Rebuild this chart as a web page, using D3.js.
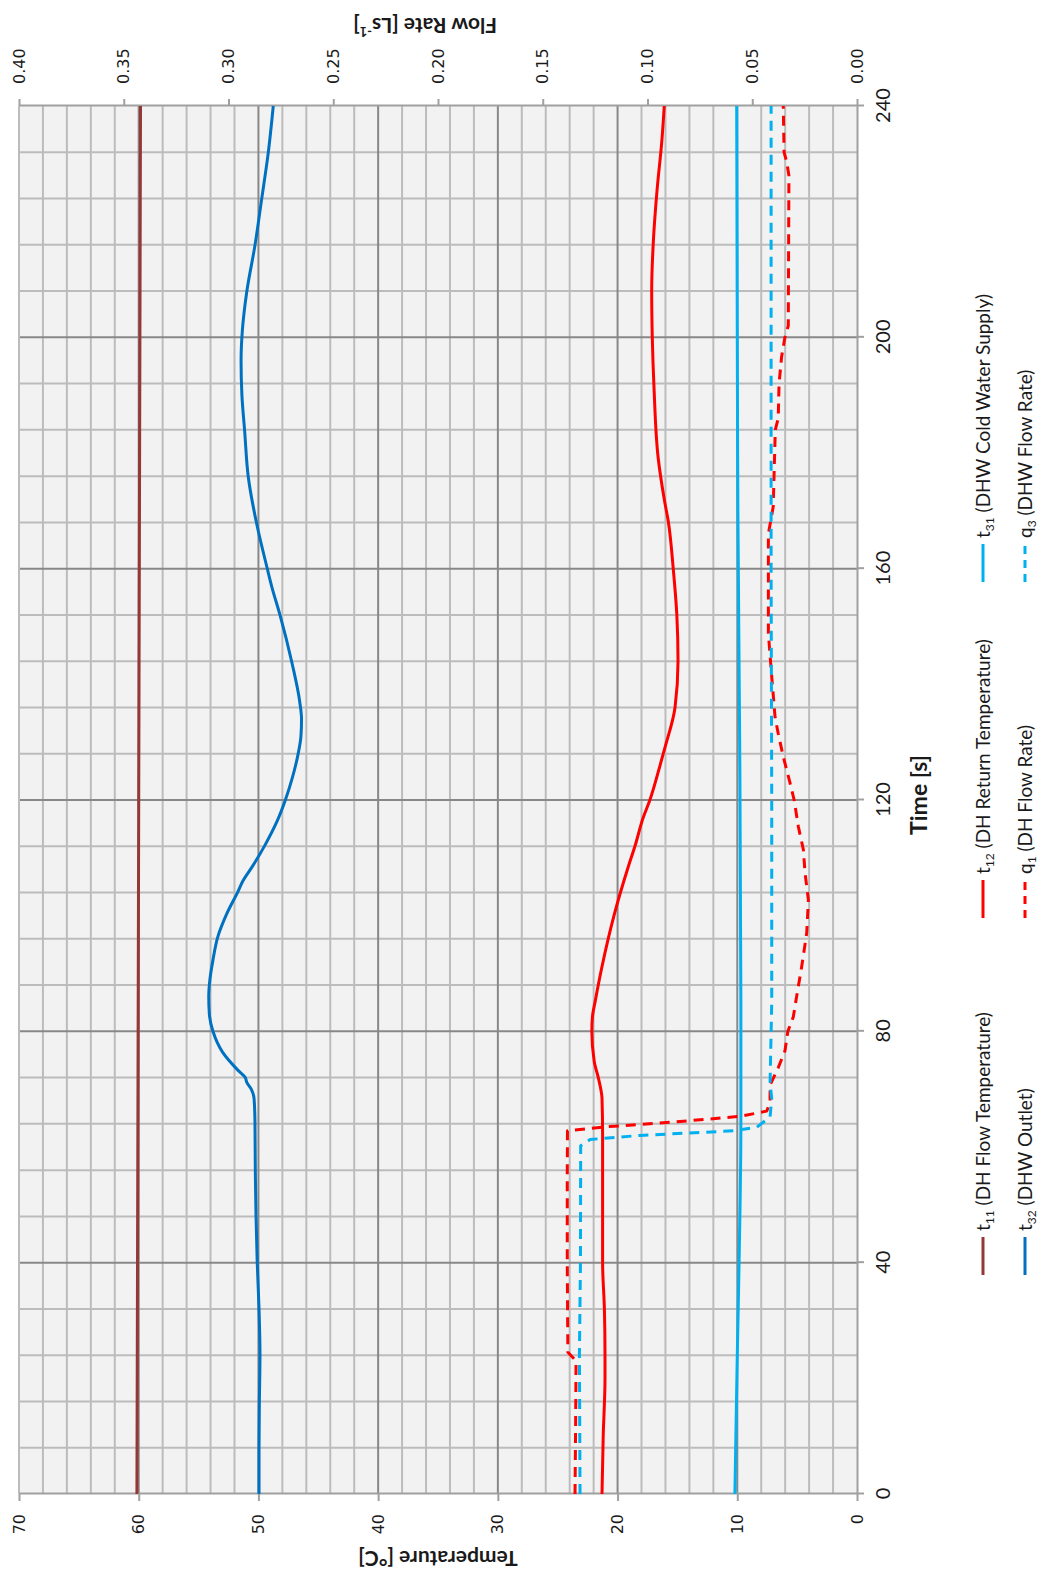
<!DOCTYPE html>
<html>
<head>
<meta charset="utf-8">
<script src="https://cdn.jsdelivr.net/npm/d3@7"></script>
<style>
  body { margin: 0; background: #fff; }
  svg { display: block; }
</style>
</head>
<body>
<svg id="chart" width="1041" height="1573"></svg>
<script>
// readings from the chart, [time s, value]
var t11 = [[0,60.15],[40,60.1],[80,60.05],[120,60.0],[160,59.95],[200,59.9],[240,59.85]];

var t12 = [[0,21.3],[10,21.2],[20,21.05],[24,21.05],[32,21.1],[40,21.25],[50,21.25],[62,21.25],
  [68.4,21.3],[71.9,21.6],[74.8,21.95],[80,22.15],[82.5,22.1],[85.4,21.85],[91.2,21.3],[100,20.3],
  [108.5,19.1],[112,18.55],[117,17.85],[120,17.3],[126,16.45],[129,16.05],[136,15.2],[144,14.95],
  [152,15.05],[160,15.35],[168,15.75],[172,16.1],[179,16.6],[191,16.95],[200,17.1],[208,17.15],
  [217,17.0],[225.5,16.7],[234,16.3],[240,16.1]];

var t31 = [[0,10.2],[12,10.1],[24,10.0],[40,9.85],[64,9.7],[85,9.7],[130,9.8],[170,9.95],[200,10.0],[240,10.05]];

var t32 = [[0,49.95],[8,49.95],[16,49.92],[24,49.87],[32,49.95],[40,50.1],[48,50.2],[56,50.26],
  [64.5,50.29],[68.5,50.37],[70,50.6],[71.2,50.98],[72,51.1],[73.2,51.68],[76.4,53.0],[80,53.8],
  [83,54.1],[86,54.15],[89,54.05],[92.3,53.8],[96.3,53.4],[100.3,52.65],[104.3,51.68],[106,51.3],
  [108.3,50.57],[112.2,49.45],[116.2,48.47],[120,47.75],[123.6,47.2],[127.8,46.7],[131,46.45],
  [134,46.4],[137,46.55],[143.9,47.22],[152,48.2],[157,48.9],[160,49.26],[167.8,50.15],[175.9,50.85],
  [183.8,51.15],[190,51.38],[196,51.45],[201,51.35],[207.8,50.98],[215.9,50.29],[223.9,49.73],
  [231.9,49.18],[240,48.76]];

var q1 = [[0,0.1346],[12,0.1343],[23,0.1341],[24.5,0.138],[40,0.1383],[55,0.1383],[62.8,0.1382],
  [63.5,0.1195],[64.3,0.0878],[65.3,0.0558],[66.2,0.0431],[67.7,0.0415],[70.7,0.0415],[73.7,0.0376],
  [76.6,0.0344],[80,0.033],[82.5,0.0304],[85.4,0.0291],[91.2,0.0264],[97,0.024],[102.7,0.0232],
  [107.4,0.0248],[111.4,0.0256],[115.4,0.028],[120,0.030],[123,0.032],[127.5,0.0352],[131.5,0.0376],
  [134.3,0.0391],[141.3,0.0407],[148.8,0.0423],[160,0.0423],[166,0.0423],[170.7,0.040],[184,0.039],
  [186,0.0376],[192,0.0372],[196.6,0.036],[200,0.0344],[202,0.0328],[228,0.0325],[230.4,0.0336],
  [232,0.0348],[240,0.0352]];

var q3 = [[0,0.1322],[24,0.1325],[40,0.132],[60.2,0.1319],[61.3,0.1274],[62,0.1036],[62.8,0.059],
  [63.4,0.0479],[65.2,0.0415],[68.4,0.0407],[71,0.0415],[85,0.0407],[120,0.0407],[160,0.041],
  [200,0.041],[240,0.041]];

var timeTicks = [0, 40, 80, 120, 160, 200, 240];
var tempTicks = [0, 10, 20, 30, 40, 50, 60, 70];
var flowTicks = [0, 0.05, 0.10, 0.15, 0.20, 0.25, 0.30, 0.35, 0.40];

// legend, in the chart's order
var legendNames = ['t', 't', 't', 't', 'q', 'q'];
var legendSubs = ['11', '12', '31', '32', '1', '3'];
var legendTexts = [' (DH Flow Temperature)', ' (DH Return Temperature)', ' (DHW Cold Water Supply)',
  ' (DHW Outlet)', ' (DH Flow Rate)', ' (DHW Flow Rate)'];

// chart is built landscape then turned a quarter to the left
var W = 1573, H = 1041;
var PL = 79, PR = 1467, PT = 19, PB = 857;

var svg = d3.select('#chart');
var g = svg.append('g')
  .attr('transform', 'translate(0,' + W + ') rotate(-90)');

var x = d3.scaleLinear().domain([0, 240]).range([PL, PR]);
var yT = d3.scaleLinear().domain([0, 70]).range([PB, PT]);
var yQ = d3.scaleLinear().domain([0, 0.4]).range([PB, PT]);

g.append('rect')
  .attr('x', PL).attr('y', PT)
  .attr('width', PR - PL).attr('height', PB - PT)
  .attr('fill', '#f2f2f2');

// grid, minor first
var tMinor = d3.range(8, 240, 8).filter(function(d){ return d % 40 != 0; });
var TMinor = d3.range(2, 70, 2).filter(function(d){ return d % 10 != 0; });

g.selectAll('.vminor').data(tMinor).enter().append('line')
  .attr('x1', d => x(d)).attr('x2', d => x(d))
  .attr('y1', PT).attr('y2', PB)
  .attr('stroke', '#bcbcbc').attr('stroke-width', 2);

g.selectAll('.hminor').data(TMinor).enter().append('line')
  .attr('x1', PL).attr('x2', PR)
  .attr('y1', d => yT(d)).attr('y2', d => yT(d))
  .attr('stroke', '#bcbcbc').attr('stroke-width', 2);

g.selectAll('.vmajor').data(timeTicks.slice(1, -1)).enter().append('line')
  .attr('x1', d => x(d)).attr('x2', d => x(d))
  .attr('y1', PT).attr('y2', PB)
  .attr('stroke', '#888').attr('stroke-width', 2);

g.selectAll('.hmajor').data(tempTicks.slice(1, -1)).enter().append('line')
  .attr('x1', PL).attr('x2', PR)
  .attr('y1', d => yT(d)).attr('y2', d => yT(d))
  .attr('stroke', '#888').attr('stroke-width', 2);

// top edge of the plot
g.append('line')
  .attr('x1', PL).attr('x2', PR).attr('y1', PT).attr('y2', PT)
  .attr('stroke', '#bcbcbc').attr('stroke-width', 2);

function styleAxis(sel, font, size) {
  sel.selectAll('path, line').attr('stroke', '#a0a0a0').attr('stroke-width', 2);
  sel.selectAll('text')
    .attr('font-family', font)
    .attr('font-size', size)
    .attr('fill', '#1a1a1a');
}

var axT = g.append('g')
  .attr('transform', 'translate(' + PL + ',0)')
  .call(d3.axisLeft(yT).tickValues(tempTicks).tickSize(7).tickSizeOuter(0).tickPadding(13));
styleAxis(axT, 'DejaVu Sans', 16);

var axQ = g.append('g')
  .attr('transform', 'translate(' + PR + ',0)')
  .call(d3.axisRight(yQ).tickValues(flowTicks).tickSize(7).tickSizeOuter(0).tickPadding(15)
    .tickFormat(d3.format('.2f')));
styleAxis(axQ, 'DejaVu Sans', 16);

var axX = g.append('g')
  .attr('transform', 'translate(0,' + PB + ')')
  .call(d3.axisBottom(x).tickValues(timeTicks).tickSize(7).tickSizeOuter(0).tickPadding(12));
styleAxis(axX, 'Lato', 20);

// axis titles
g.append('text')
  .attr('transform', 'translate(17,' + ((PT + PB) / 2) + ') rotate(-90)')
  .attr('text-anchor', 'middle').attr('dominant-baseline', 'middle')
  .attr('font-family', 'Lato').attr('font-weight', 'bold').attr('font-size', 21)
  .attr('fill', '#1a1a1a')
  .text('Temperature [°C]');

var ft = g.append('text')
  .attr('transform', 'translate(1550,425) rotate(-90)')
  .attr('text-anchor', 'middle').attr('dominant-baseline', 'middle')
  .attr('font-family', 'Lato').attr('font-weight', 'bold').attr('font-size', 21)
  .attr('fill', '#1a1a1a');
ft.append('tspan').text('Flow Rate [Ls');
ft.append('tspan').attr('dy', -7).attr('font-size', 13).text('-1');
ft.append('tspan').attr('dy', 7).text(']');

g.append('text')
  .attr('x', 778).attr('y', 921)
  .attr('text-anchor', 'middle').attr('dominant-baseline', 'middle')
  .attr('font-family', 'Lato').attr('font-weight', 'bold').attr('font-size', 23)
  .attr('fill', '#1a1a1a')
  .text('Time [s]');

// series
var lineT = d3.line().x(d => x(d[0])).y(d => yT(d[1])).curve(d3.curveMonotoneX);
var lineQ = d3.line().x(d => x(d[0])).y(d => yQ(d[1])).curve(d3.curveLinear);

var series = [
  {data: t11, line: lineT, color: '#953735', dash: null},
  {data: t12, line: lineT, color: '#ff0000', dash: null},
  {data: t31, line: lineT, color: '#00b0f0', dash: null},
  {data: t32, line: lineT, color: '#0070c0', dash: null},
  {data: q1, line: lineQ, color: '#ff0000', dash: '10,7'},
  {data: q3, line: lineQ, color: '#00b0f0', dash: '10,7'}
];

series.forEach(function(s) {
  g.append('path')
    .datum(s.data)
    .attr('d', s.line)
    .attr('fill', 'none')
    .attr('stroke', s.color)
    .attr('stroke-width', 3)
    .attr('stroke-dasharray', s.dash)
    .attr('stroke-linejoin', 'round');
});

// legend, two rows of three
var legX = [298, 655, 991];
var legY = [983, 1025];

series.forEach(function(s, i) {
  var lx = legX[i % 3], ly = legY[Math.floor(i / 3)];
  var lg = g.append('g').attr('transform', 'translate(' + lx + ',' + ly + ')');
  lg.append('line')
    .attr('x1', 0).attr('x2', 38).attr('y1', 0).attr('y2', 0)
    .attr('stroke', s.color).attr('stroke-width', 3)
    .attr('stroke-dasharray', s.dash ? '8,6' : null);
  var tx = lg.append('text')
    .attr('x', 44).attr('y', 7)
    .attr('font-family', 'Lato').attr('font-size', 19)
    .attr('fill', '#1a1a1a');
  tx.append('tspan').text(legendNames[i]);
  tx.append('tspan').attr('dy', 4).attr('font-size', 12).text(legendSubs[i]);
  tx.append('tspan').attr('dy', -4).text(legendTexts[i]);
});
</script>
</body>
</html>
